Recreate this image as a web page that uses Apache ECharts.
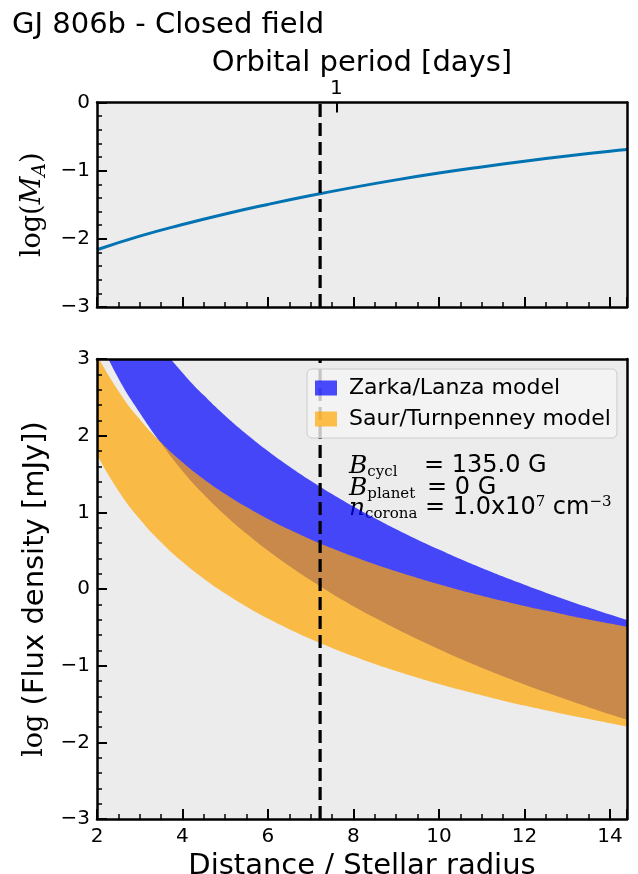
<!DOCTYPE html>
<html><head><meta charset="utf-8">
<script src="https://cdn.jsdelivr.net/npm/echarts@6/dist/echarts.min.js"></script>
<style>html,body{margin:0;padding:0;background:#fff}#c{width:638px;height:874px}</style>
</head><body><div id="c"></div>
<script>
// ---- data ----
const distance = [2, 2.5, 3, 3.5, 4, 4.5, 5, 5.5, 6, 6.5, 7, 7.5, 8, 8.5, 9, 9.5, 10, 10.5, 11, 11.5, 12, 12.5, 13, 13.5, 14, 14.4];
const zarkaUpper = [4.569, 4.006, 3.547, 3.159, 2.822, 2.526, 2.260, 2.020, 1.801, 1.599, 1.413, 1.239, 1.076, 0.924, 0.780, 0.644, 0.514, 0.391, 0.274, 0.162, 0.055, -0.048, -0.146, -0.241, -0.333, -0.404];
const zarkaLower = [3.31, 2.75, 2.30, 1.90, 1.54, 1.232, 0.962, 0.720, 0.501, 0.299, 0.113, -0.061, -0.224, -0.376, -0.520, -0.656, -0.786, -0.909, -1.026, -1.138, -1.245, -1.348, -1.446, -1.541, -1.633, -1.704];
const saurUpper = [3.050, 2.583, 2.213, 1.910, 1.654, 1.433, 1.240, 1.068, 0.914, 0.775, 0.647, 0.531, 0.423, 0.323, 0.231, 0.144, 0.062, -0.015, -0.087, -0.156, -0.221, -0.282, -0.341, -0.397, -0.450, -0.492];
const saurLower = [1.750, 1.283, 0.913, 0.610, 0.354, 0.133, -0.060, -0.232, -0.386, -0.525, -0.653, -0.769, -0.877, -0.977, -1.069, -1.156, -1.238, -1.315, -1.387, -1.456, -1.521, -1.582, -1.641, -1.697, -1.750, -1.792];
const maDistance = [2, 3, 4, 5, 6, 7, 8, 9, 10, 11, 12, 13, 14, 14.4];
const logMA = [-2.16, -1.96, -1.79, -1.635, -1.495, -1.365, -1.245, -1.135, -1.035, -0.945, -0.862, -0.785, -0.715, -0.69];
const planetDistance = 7.22;
const periodTickPos = [7.6];
const periodTickLabels = ['1'];
const xRange = [2, 14.4];
const topYRange = [-3, 0];
const botYRange = [-3, 3];

// ---- styles ----
const BLUE = 'rgba(0,0,255,0.7)';
const ORANGE = 'rgba(255,165,0,0.7)';
const SANS = 'DejaVu Sans';
const SERIF = 'DejaVu Serif';
const fmt = v => (v < 0 ? '\u2212' + Math.abs(v) : String(v));
const axLine = {show: true, onZero: false, lineStyle: {color: '#000', width: 2.5}};
const tick = {show: true, inside: true, length: 10, lineStyle: {color: '#000', width: 2}};
const minor = n => ({show: true, splitNumber: n, length: 5, lineStyle: {color: '#000', width: 1.5}});
const ylbl = {color: '#000', fontFamily: SANS, fontSize: 20, margin: 7, formatter: fmt, showMinLabel: true, showMaxLabel: true};
const xlbl = {color: '#000', fontFamily: SANS, fontSize: 20, margin: 8, formatter: fmt, showMinLabel: true, showMaxLabel: false};
const plain = (gi, pos, range) => ({
  type: 'value', gridIndex: gi, position: pos, min: range[0], max: range[1],
  axisLine: axLine, axisTick: {show: false}, axisLabel: {show: false}, splitLine: {show: false}, z: 5
});

// band data stored as [y, x] so that stacking acts on the y value
const ptsYX = (xs, ys) => xs.map((x, i) => [ys[i], x]);
const pts = (xs, ys) => xs.map((x, i) => [x, ys[i]]);
const diff = (a, b) => a.map((v, i) => +(v - b[i]).toFixed(4));

const chart = echarts.init(document.getElementById('c'), null, {renderer: 'canvas'});
const bandBase = {type: 'line', xAxisIndex: 2, yAxisIndex: 2, symbol: 'none', smooth: 0.5, silent: true,
  stackStrategy: 'all', encode: {x: 1, y: 0}, lineStyle: {width: 0, opacity: 0}, emphasis: {disabled: true}};

const symRich = {
  i: {fontFamily: SERIF, fontStyle: 'italic', fontSize: 25, fill: '#000', lineHeight: 26},
  s: {fontFamily: SERIF, fontSize: 15, fill: '#000', lineHeight: 26, padding: [12, 0, 0, 0]}
};

chart.setOption({
  animation: false,
  backgroundColor: '#fff',
  grid: [
    {left: 97, top: 102.5, width: 530, height: 204.5, show: true, backgroundColor: '#ececec', borderWidth: 0, outerBoundsMode: 'none', containLabel: false},
    {left: 97, top: 359, width: 530, height: 460, show: true, backgroundColor: '#ececec', borderWidth: 0, outerBoundsMode: 'none', containLabel: false}
  ],
  xAxis: [
    {type: 'value', gridIndex: 0, position: 'bottom', min: xRange[0], max: xRange[1], interval: 2,
     axisLine: axLine, axisTick: tick, minorTick: minor(4), axisLabel: {show: false}, splitLine: {show: false}, z: 5},
    {type: 'value', gridIndex: 0, position: 'top', min: xRange[0], max: xRange[1],
     name: 'Orbital period [days]', nameLocation: 'middle', nameGap: 24,
     nameTextStyle: {fontFamily: SANS, fontSize: 29, color: '#000'},
     axisLine: axLine,
     axisTick: {show: true, inside: true, length: 10, lineStyle: {color: '#000', width: 2}, customValues: periodTickPos},
     axisLabel: {show: true, color: '#000', fontFamily: SANS, fontSize: 20, margin: 4, customValues: periodTickPos,
       formatter: v => periodTickLabels[periodTickPos.findIndex(p => Math.abs(p - v) < 1e-6)] || ''},
     splitLine: {show: false}, z: 5},
    {type: 'value', gridIndex: 1, position: 'bottom', min: xRange[0], max: xRange[1], interval: 2,
     name: 'Distance / Stellar radius', nameLocation: 'middle', nameGap: 29,
     nameTextStyle: {fontFamily: SANS, fontSize: 29, color: '#000'},
     axisLine: axLine, axisTick: tick, minorTick: minor(4), axisLabel: xlbl,
     splitLine: {show: false}, z: 5},
    plain(1, 'top', xRange)
  ],
  yAxis: [
    {type: 'value', gridIndex: 0, position: 'left', min: topYRange[0], max: topYRange[1], interval: 1,
     name: '{r|log(}{i|M}{s|A}{r|)}', nameLocation: 'middle', nameGap: 30, nameRotate: 90,
     nameTextStyle: {color: '#000', rich: {
       r: {fontFamily: SERIF, fontSize: 27, color: '#000'},
       i: {fontFamily: SERIF, fontStyle: 'italic', fontSize: 27, color: '#000'},
       s: {fontFamily: SERIF, fontStyle: 'italic', fontSize: 19, color: '#000', padding: [14, 0, 0, 0]}
     }},
     axisLine: axLine, axisTick: tick, minorTick: minor(5), axisLabel: ylbl, splitLine: {show: false}, z: 5},
    plain(0, 'right', topYRange),
    {type: 'value', gridIndex: 1, position: 'left', min: botYRange[0], max: botYRange[1], interval: 1,
     name: '{r|log}{t| (Flux density [mJy])}', nameLocation: 'middle', nameGap: 29, nameRotate: 90,
     nameTextStyle: {color: '#000', rich: {
       r: {fontFamily: SERIF, fontSize: 27, color: '#000'},
       t: {fontFamily: SANS, fontSize: 29, color: '#000'}
     }},
     axisLine: axLine, axisTick: tick, minorTick: minor(5), axisLabel: ylbl, splitLine: {show: false}, z: 5},
    plain(1, 'right', botYRange)
  ],
  legend: {
    orient: 'vertical', left: 307, top: 369,
    backgroundColor: 'rgba(245,245,245,0.8)', borderColor: '#cccccc', borderWidth: 1, borderRadius: 5,
    padding: [8, 6, 8, 8], itemWidth: 22, itemHeight: 15, itemGap: 9,
    textStyle: {fontFamily: SANS, fontSize: 22, color: '#000', padding: [0, 0, 0, 7]},
    selectedMode: false,
    data: [
      {name: 'Zarka/Lanza model', icon: 'rect', itemStyle: {color: BLUE}},
      {name: 'Saur/Turnpenney model', icon: 'rect', itemStyle: {color: ORANGE}}
    ]
  },
  graphic: [
    {type: 'text', left: 12, top: 11, style: {text: 'GJ 806b - Closed field', fontFamily: SANS, fontSize: 29, fill: '#000'}},
    {type: 'text', x: 349, y: 466, style: {text: '{i|B}{s|cycl}', verticalAlign: 'middle', rich: symRich}},
    {type: 'text', x: 424, y: 466, style: {text: '= 135.0 G', verticalAlign: 'middle', fontFamily: SANS, fontSize: 24, fill: '#000'}},
    {type: 'text', x: 349, y: 488, style: {text: '{i|B}{s|planet}', verticalAlign: 'middle', rich: symRich}},
    {type: 'text', x: 427, y: 488, style: {text: '= 0 G', verticalAlign: 'middle', fontFamily: SANS, fontSize: 24, fill: '#000'}},
    {type: 'text', x: 349, y: 508, style: {text: '{i|n}{s|corona}', verticalAlign: 'middle', rich: symRich}},
    {type: 'text', x: 425, y: 508, style: {text: '{t|= 1.0x10}{p|7}{t| cm}{p|\u22123}', verticalAlign: 'middle', rich: {
      t: {fontFamily: SANS, fontSize: 24, fill: '#000', lineHeight: 26},
      p: {fontFamily: SERIF, fontSize: 15, fill: '#000', lineHeight: 26, padding: [0, 0, 12, 0]}}}}
  ],
  series: [
    Object.assign({}, bandBase, {name: 'zl_base', stack: 'zl', data: ptsYX(distance, zarkaLower)}),
    Object.assign({}, bandBase, {name: 'Zarka/Lanza model', stack: 'zl', data: ptsYX(distance, diff(zarkaUpper, zarkaLower)),
      itemStyle: {color: BLUE}, areaStyle: {color: BLUE, opacity: 1}}),
    Object.assign({}, bandBase, {name: 'st_base', stack: 'st', data: ptsYX(distance, saurLower)}),
    Object.assign({}, bandBase, {name: 'Saur/Turnpenney model', stack: 'st', data: ptsYX(distance, diff(saurUpper, saurLower)),
      itemStyle: {color: ORANGE}, areaStyle: {color: ORANGE, opacity: 1}}),
    {type: 'line', xAxisIndex: 0, yAxisIndex: 0, symbol: 'none', smooth: 0.5, silent: true,
     data: pts(maDistance, logMA), lineStyle: {color: '#0173b2', width: 3}, z: 3},
    {type: 'line', xAxisIndex: 0, yAxisIndex: 0, symbol: 'none', silent: true,
     data: [[planetDistance, topYRange[0]], [planetDistance, topYRange[1]]],
     lineStyle: {color: '#000', width: 3.2, type: [13, 6]}, z: 3},
    {type: 'line', xAxisIndex: 2, yAxisIndex: 2, symbol: 'none', silent: true,
     data: [[planetDistance, botYRange[0]], [planetDistance, botYRange[1]]],
     lineStyle: {color: '#000', width: 3.2, type: [13, 6]}, z: 3}
  ]
});
</script></body></html>
